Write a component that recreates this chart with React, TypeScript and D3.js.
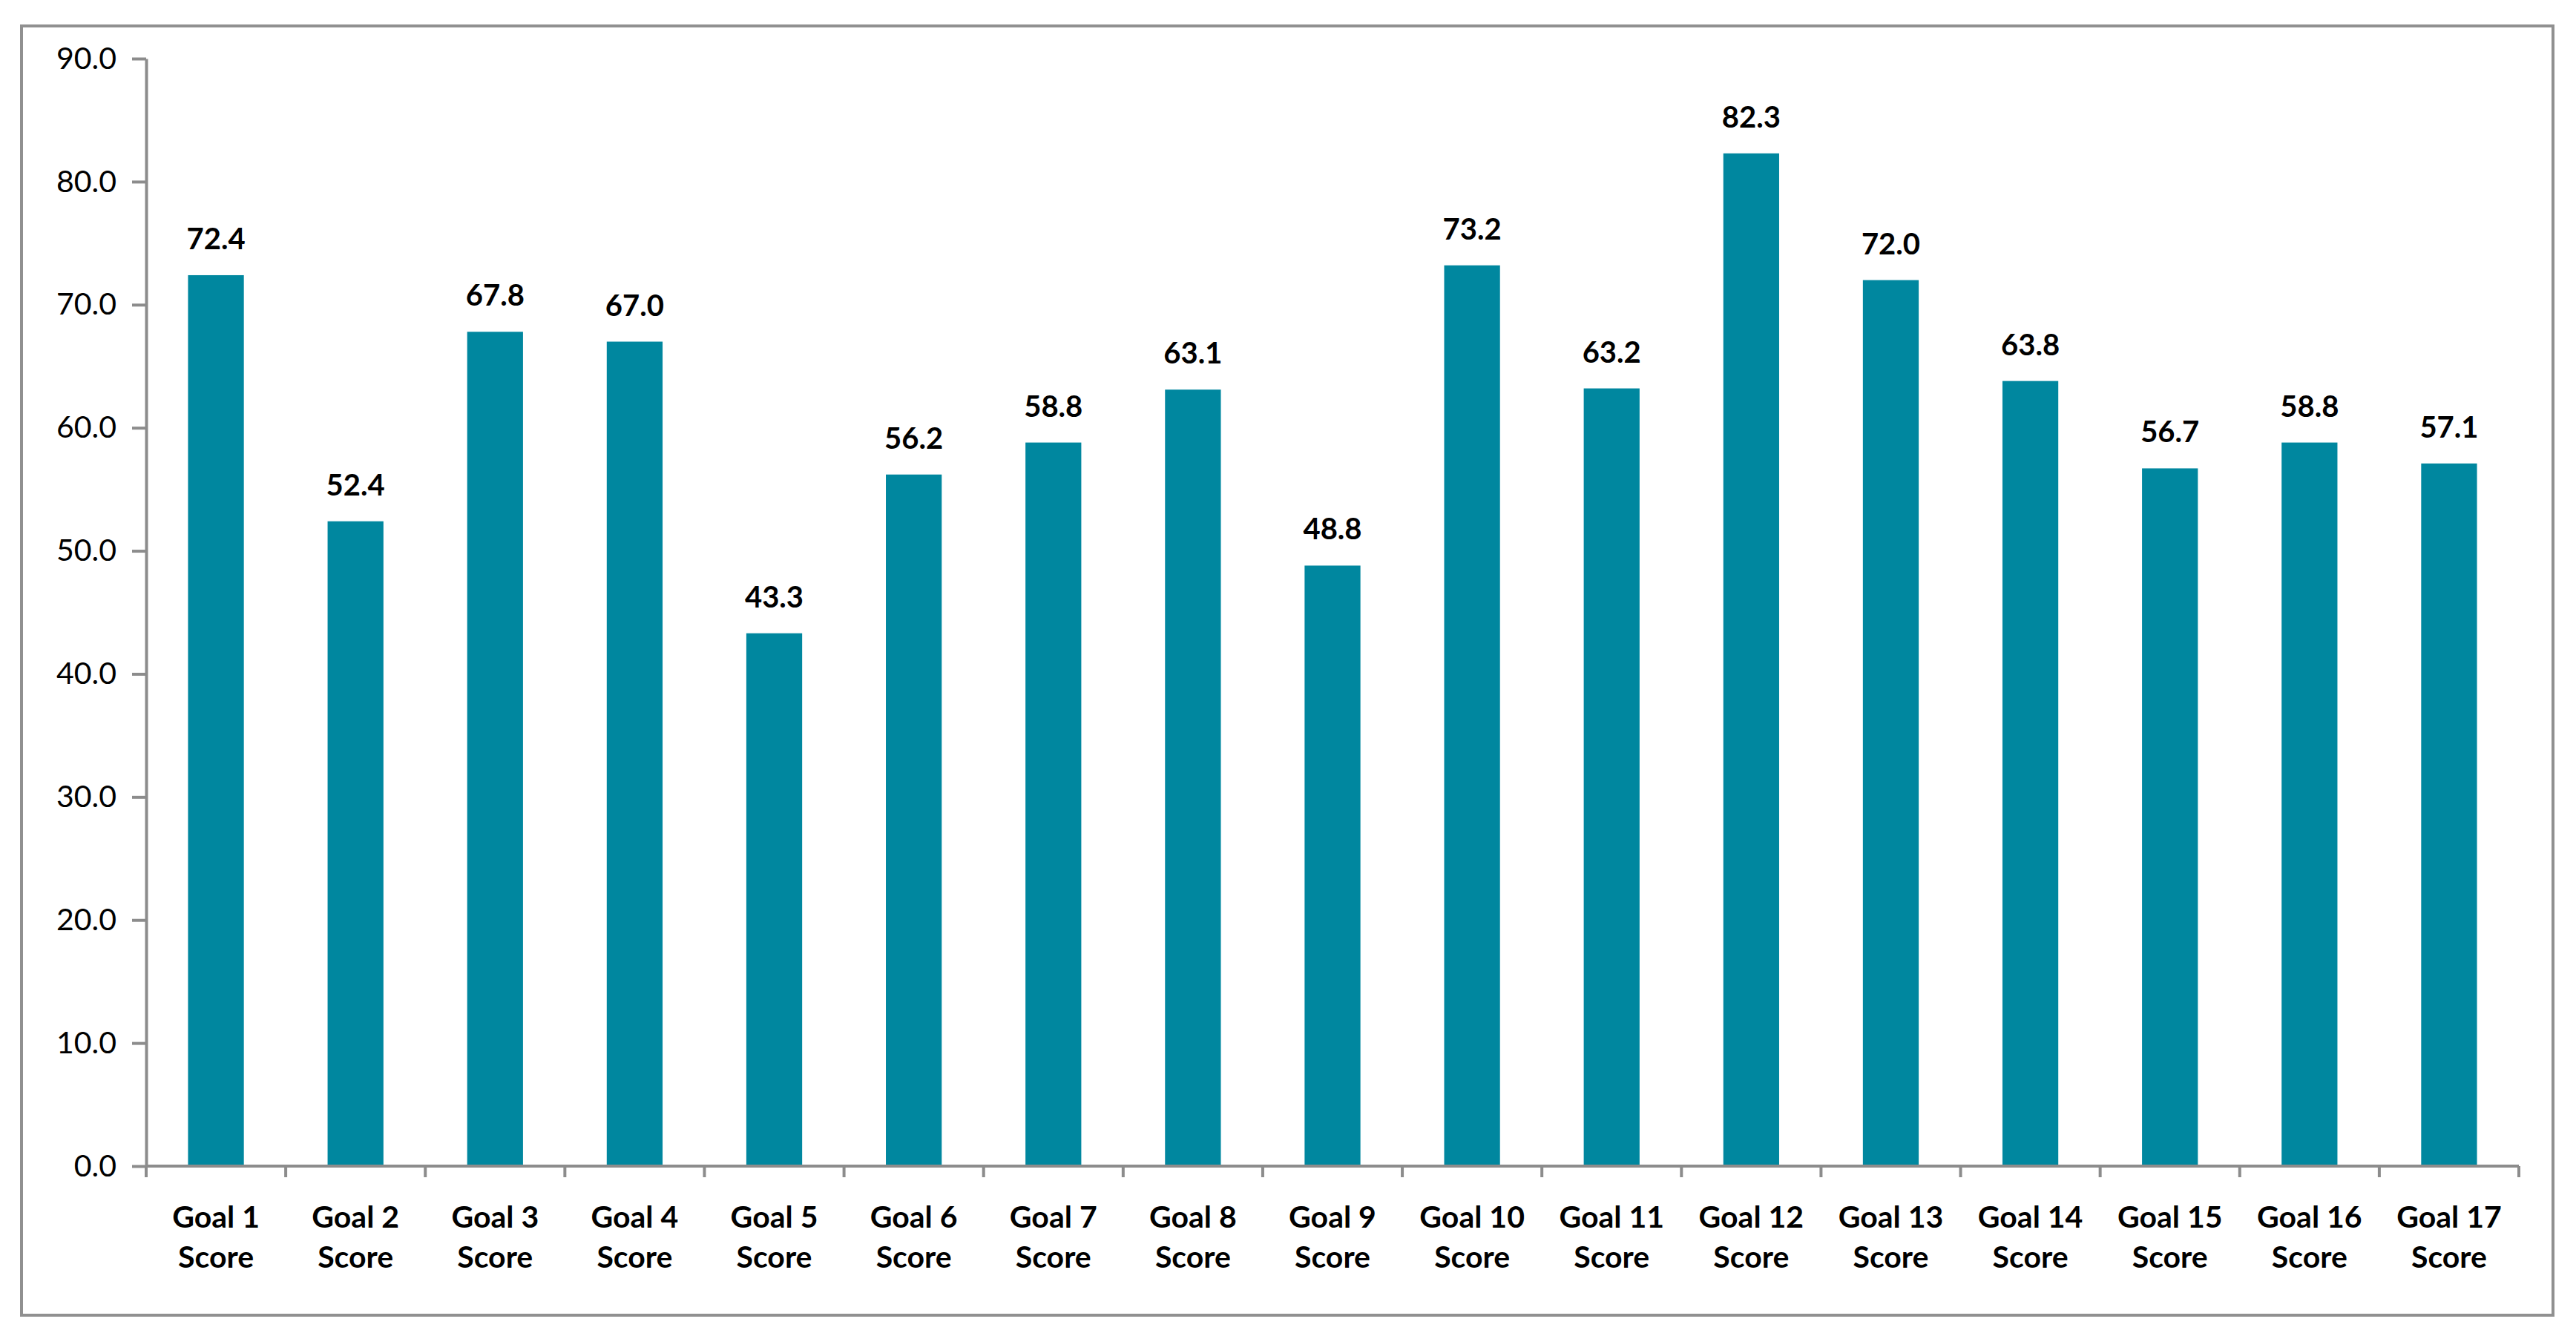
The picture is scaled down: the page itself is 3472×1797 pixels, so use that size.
import * as d3 from 'd3'
import { useEffect, useRef } from 'react'

const goals = [
  'Goal 1', 'Goal 2', 'Goal 3', 'Goal 4', 'Goal 5', 'Goal 6', 'Goal 7', 'Goal 8', 'Goal 9',
  'Goal 10', 'Goal 11', 'Goal 12', 'Goal 13', 'Goal 14', 'Goal 15', 'Goal 16', 'Goal 17',
]
const scores = [72.4, 52.4, 67.8, 67.0, 43.3, 56.2, 58.8, 63.1, 48.8, 73.2, 63.2, 82.3, 72.0, 63.8, 56.7, 58.8, 57.1]
const yTicks = [0, 10, 20, 30, 40, 50, 60, 70, 80, 90]

export default function App() {
  const ref = useRef<SVGSVGElement | null>(null)

  useEffect(() => {
    if (!ref.current) return

    const width = 3472
    const height = 1797
    const left = 197
    const right = 3395
    const top = 79
    const bottom = 1572
    const axisColor = '#8c8c8c'
    const font = 'Lato, "Open Sans", sans-serif'

    const svg = d3.select(ref.current)
    svg.selectAll('*').remove()

    svg.append('rect')
      .attr('width', width)
      .attr('height', height)
      .attr('fill', '#fff')

    // outer chart border
    svg.append('rect')
      .attr('x', 29)
      .attr('y', 35)
      .attr('width', 3412)
      .attr('height', 1738)
      .attr('fill', 'none')
      .attr('stroke', '#909090')
      .attr('stroke-width', 4)

    const x = d3.scaleBand<string>()
      .domain(goals)
      .range([left, right])
      .paddingInner(0.6)
      .paddingOuter(0.3)

    const y = d3.scaleLinear()
      .domain([0, 90])
      .range([bottom, top])

    const rows = goals.map((g, i) => ({ goal: g, value: scores[i] }))

    svg.append('g')
      .selectAll('rect')
      .data(rows)
      .join('rect')
      .attr('x', d => x(d.goal)!)
      .attr('y', d => y(d.value))
      .attr('width', x.bandwidth())
      .attr('height', d => y(0) - y(d.value))
      .attr('fill', '#00879f')

    svg.append('g')
      .selectAll('text')
      .data(rows)
      .join('text')
      .attr('x', d => x(d.goal)! + x.bandwidth() / 2)
      .attr('y', d => y(d.value) - 35)
      .attr('text-anchor', 'middle')
      .attr('font-family', font)
      .attr('font-weight', 'bold')
      .attr('font-size', 40)
      .attr('fill', '#000')
      .text(d => d.value.toFixed(1))

    // y axis
    const yAxis = svg.append('g')
      .attr('transform', `translate(${left}, 0)`)
      .call(d3.axisLeft(y)
        .tickValues(yTicks)
        .tickFormat(d3.format('.1f'))
        .tickSize(19)
        .tickSizeOuter(0)
        .tickPadding(21) as any)
    yAxis.select('.domain').attr('stroke', axisColor).attr('stroke-width', 4)
    yAxis.selectAll('.tick line').attr('stroke', axisColor).attr('stroke-width', 4)
    yAxis.selectAll('.tick text')
      .attr('font-family', font)
      .attr('font-size', 41)
      .attr('fill', '#000')

    // x axis with ticks at category boundaries
    const step = x.step()
    const x0 = left
    const xAxis = svg.append('g')
    xAxis.append('line')
      .attr('x1', left)
      .attr('x2', right)
      .attr('y1', bottom)
      .attr('y2', bottom)
      .attr('stroke', axisColor)
      .attr('stroke-width', 4)
    xAxis.selectAll('line.tk')
      .data(d3.range(goals.length + 1))
      .join('line')
      .attr('class', 'tk')
      .attr('x1', i => x0 + i * step)
      .attr('x2', i => x0 + i * step)
      .attr('y1', bottom)
      .attr('y2', bottom + 15)
      .attr('stroke', axisColor)
      .attr('stroke-width', 4)

    const labels = xAxis.selectAll('text')
      .data(goals)
      .join('text')
      .attr('text-anchor', 'middle')
      .attr('font-family', font)
      .attr('font-weight', 'bold')
      .attr('font-size', 41)
      .attr('fill', '#000')
    labels.append('tspan')
      .attr('x', d => x(d)! + x.bandwidth() / 2)
      .attr('y', 1655)
      .text(d => d)
    labels.append('tspan')
      .attr('x', d => x(d)! + x.bandwidth() / 2)
      .attr('y', 1709)
      .text('Score')
  }, [])

  return (
    <div style={{ position: 'absolute', left: 0, top: 0 }}>
      <svg ref={ref} width={3472} height={1797} style={{ display: 'block' }} />
    </div>
  )
}
